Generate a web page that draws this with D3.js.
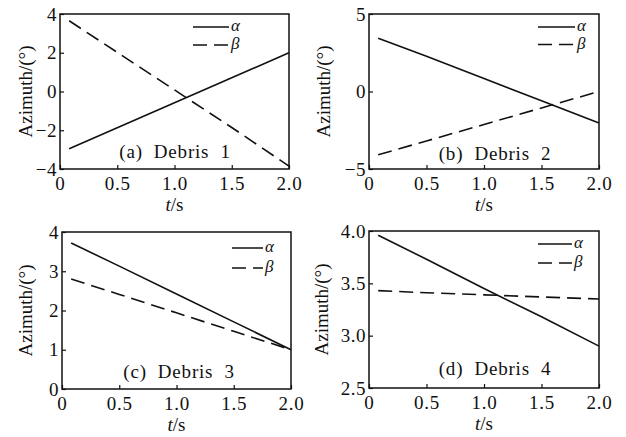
<!DOCTYPE html>
<html>
<head>
<meta charset="utf-8">
<script src="https://cdn.jsdelivr.net/npm/d3@7/dist/d3.min.js"></script>
<style>
  html, body { margin: 0; padding: 0; background: #fff; }
  svg { display: block; font-family: "Liberation Serif", "Times New Roman", serif; }
</style>
</head>
<body>
<svg id="chart" width="626" height="437"></svg>
<script>
// Sample times (s)
const times = [0.08, 0.5, 1.0, 1.5, 2.0];

// Azimuth angles (degrees) for each debris piece
const alpha1 = [-2.95, -1.87, -0.58, 0.71, 2.0];
const beta1  = [3.65, 2.02, 0.08, -1.86, -3.85];
const alpha2 = [3.43, 2.28, 0.84, -0.60, -2.04];
const beta2  = [-4.08, -3.19, -2.13, -1.06, 0.0];
const alpha3 = [3.72, 3.13, 2.42, 1.71, 1.0];
const beta3  = [2.80, 2.41, 1.94, 1.47, 1.0];
const alpha4 = [3.96, 3.73, 3.45, 3.18, 2.90];
const beta4  = [3.43, 3.41, 3.39, 3.37, 3.35];

// Axis ticks
const xTicks = [0, 0.5, 1.0, 1.5, 2.0];
const yTicks1 = [-4, -2, 0, 2, 4];
const yTicks2 = [-5, 0, 5];
const yTicks3 = [0, 1, 2, 3, 4];
const yTicks4 = [2.5, 3.0, 3.5, 4.0];

const titles = ["(a)  Debris  1", "(b)  Debris  2", "(c)  Debris  3", "(d)  Debris  4"];

// Panel geometry
const panels = [
  { a: alpha1, b: beta1, yt: yTicks1, dom: [-4, 4], fmt: d3.format("d"),
    x0: 60, x1: 289, y0: 14, y1: 169, lx: 193, lw: 36, ly: 27, gap: 18, tx: 175, ty: 158, ylx: 25 },
  { a: alpha2, b: beta2, yt: yTicks2, dom: [-5, 5], fmt: d3.format("d"),
    x0: 369, x1: 599, y0: 14, y1: 169, lx: 538, lw: 37, ly: 27, gap: 17.5, tx: 495, ty: 160, ylx: 323 },
  { a: alpha3, b: beta3, yt: yTicks3, dom: [0, 4], fmt: d3.format("d"),
    x0: 62, x1: 291, y0: 232, y1: 389, lx: 232, lw: 31, ly: 248, gap: 20, tx: 179, ty: 378, ylx: 25 },
  { a: alpha4, b: beta4, yt: yTicks4, dom: [2.5, 4.0], fmt: d3.format(".1f"),
    x0: 369, x1: 599, y0: 231, y1: 388, lx: 538, lw: 34, ly: 244, gap: 19, tx: 495, ty: 375, ylx: 321 }
];

const svg = d3.select("#chart");
const minus = s => s.replace("-", "\u2212");
const ink = "#111";
const serif = "Liberation Serif";

panels.forEach((p, i) => {
  const x = d3.scaleLinear().domain([0, 2]).range([p.x0, p.x1]);
  const y = d3.scaleLinear().domain(p.dom).range([p.y1, p.y0]);
  const g = svg.append("g");

  // x axis: inward ticks, labels below
  const xa = g.append("g").attr("transform", `translate(0,${p.y1})`)
    .call(d3.axisBottom(x).tickValues(xTicks).tickSizeInner(-4).tickSizeOuter(0)
      .tickFormat(d => d === 0 ? "0" : d3.format(".1f")(d)))
    .attr("font-family", serif).attr("font-size", 19);
  xa.select(".domain").remove();
  xa.selectAll("line").attr("stroke", ink).attr("stroke-width", 1.2);
  xa.selectAll("text").attr("y", 8).attr("fill", ink).attr("letter-spacing", 0.8);

  // y axis: inward ticks, labels left
  const ya = g.append("g").attr("transform", `translate(${p.x0},0)`)
    .call(d3.axisLeft(y).tickValues(p.yt).tickSizeInner(-4).tickSizeOuter(0)
      .tickFormat(d => minus(p.fmt(d))))
    .attr("font-family", serif).attr("font-size", 19);
  ya.select(".domain").remove();
  ya.selectAll("line").attr("stroke", ink).attr("stroke-width", 1.2);
  ya.selectAll("text").attr("x", -3).attr("fill", ink).attr("letter-spacing", 0.5);

  // frame
  g.append("rect").attr("x", p.x0).attr("y", p.y0)
    .attr("width", p.x1 - p.x0).attr("height", p.y1 - p.y0)
    .attr("fill", "none").attr("stroke", ink).attr("stroke-width", 1.5);

  const line = d3.line().x((d, k) => x(times[k])).y(d => y(d));
  g.append("path").datum(p.a).attr("d", line)
    .attr("fill", "none").attr("stroke", ink).attr("stroke-width", 1.6);
  g.append("path").datum(p.b).attr("d", line)
    .attr("fill", "none").attr("stroke", ink).attr("stroke-width", 1.6)
    .attr("stroke-dasharray", "14,7");

  // legend
  g.append("line").attr("x1", p.lx).attr("x2", p.lx + p.lw).attr("y1", p.ly).attr("y2", p.ly)
    .attr("stroke", ink).attr("stroke-width", 1.5);
  g.append("line").attr("x1", p.lx).attr("x2", p.lx + p.lw).attr("y1", p.ly + p.gap).attr("y2", p.ly + p.gap)
    .attr("stroke", ink).attr("stroke-width", 1.5).attr("stroke-dasharray", "14,7");
  g.append("text").attr("x", p.lx + p.lw + 2).attr("y", p.ly + 4)
    .attr("font-size", 17).attr("font-style", "italic").attr("fill", ink).text("α");
  g.append("text").attr("x", p.lx + p.lw + 2).attr("y", p.ly + p.gap + 4)
    .attr("font-size", 17).attr("font-style", "italic").attr("fill", ink).text("β");

  // panel caption
  g.append("text").attr("x", p.tx).attr("y", p.ty).attr("text-anchor", "middle")
    .attr("font-size", 19).attr("fill", ink).attr("letter-spacing", 0.8)
    .style("white-space", "pre").text(titles[i]);

  // axis titles
  const xl = g.append("text").attr("x", (p.x0 + p.x1) / 2).attr("y", p.y1 + 42)
    .attr("text-anchor", "middle").attr("font-size", 19).attr("fill", ink);
  xl.append("tspan").attr("font-style", "italic").text("t");
  xl.append("tspan").text("/s");

  g.append("text").attr("transform", `translate(${p.ylx},${(p.y0 + p.y1) / 2}) rotate(-90)`)
    .attr("text-anchor", "middle").attr("dy", "0.35em").attr("font-size", 19).attr("fill", ink)
    .text("Azimuth/(°)");
});
</script>
</body>
</html>
